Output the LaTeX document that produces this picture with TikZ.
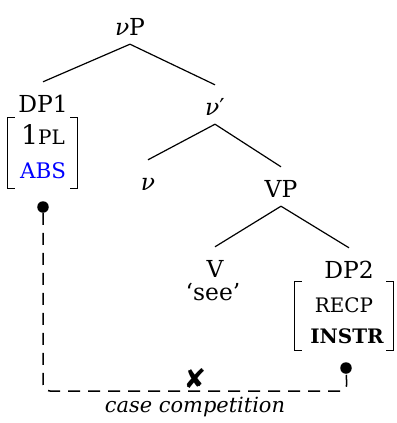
\documentclass[tikz,border=0pt]{standalone}
\usepackage{fontspec}
\usepackage{xcolor}
\usepackage{tikz}
\usetikzlibrary{positioning}
\setmainfont{DejaVu Serif}
\newfontfamily\symfont{DejaVu Sans}
\newcommand{\featsize}{\fontsize{20}{24}\selectfont}
\newcommand{\gr}{\textit{ν}}

\tikzset{
  cat/.style={anchor=base, inner sep=0pt, text height=30bp, text depth=9bp},
  leaf/.style={cat, text depth=3bp},
  featrow/.style={anchor=base, inner sep=0pt},
  featbox/.style={inner sep=0pt, minimum width=#1},
  dot/.style={circle, fill, inner sep=0pt, minimum size=11.5bp},
  branch/.style={line width=1.2bp}
}

\newcommand{\featbrackets}[1]{%
  \draw[line width=1.1bp] ([xshift=7bp]#1.north west) -- (#1.north west) -- (#1.south west) -- ([xshift=7bp]#1.south west);
  \draw[line width=1.1bp] ([xshift=-7bp]#1.north east) -- (#1.north east) -- (#1.south east) -- ([xshift=-7bp]#1.south east);}

\begin{document}
\begin{tikzpicture}[x=1bp, y=-1bp, font=\fontsize{23.5}{28}\selectfont]
            \useasboundingbox (0,0) rectangle (397,423);

            % tree
            \node[cat] (vP) at (130,35) {\gr P};
            \node[cat] (DP1) at (43,112) {DP1};
            \node[cat] (vbar) at (215,115) {\gr′};
            \node[cat] (v) at (148,190) {\gr};
            \node[cat] (VP) at (281,197) {VP};
            \node[leaf] (V) at (215,277) {V};
            \node[featrow] (gloss) at (213,300) {‘see’};
            \node[cat] (DP2) at (349,278) {DP2};

            \draw[branch] (vP.south) -- (DP1.north);
            \draw[branch] (vP.south) -- (vbar.north);
            \draw[branch] (vbar.south) -- (v.north);
            \draw[branch] (vbar.south) -- (VP.north);
            \draw[branch] (VP.south) -- (V.north);
            \draw[branch] (VP.south) -- (DP2.north);

            % feature bundles
            \node[featrow] (F1a) at (43,144) {{\fontsize{27}{30}\selectfont 1}{\fontsize{20}{24}\selectfont PL}};
            \node[featrow, text=blue] (F1b) at (43,178) {\fontsize{21.5}{25}\selectfont ABS};
            \node[featbox=69bp, minimum height=70bp] (F1) at (42.5,153) {};
            \featbrackets{F1}

            \node[featrow] (F2a) at (344,312) {\featsize RECP};
            \node[featrow] (F2b) at (347,343) {\featsize\bfseries INSTR};
            \node[featbox=98bp, minimum height=68bp] (F2) at (344,316) {};
            \featbrackets{F2}

            % case competition
            \node[dot] (d1) at (43,207) {};
            \node[dot] (d2) at (346,368) {};
            \coordinate (turn) at (347,391);

            \draw[line width=1.5bp, dash pattern=on 12bp off 8bp, rounded corners=7bp]
              (d1) |- node[pos=0.75, anchor=base, inner sep=0pt, yshift=3bp, font=\symfont\fontsize{27}{30}\selectfont] (cross) {✘} (turn) -- (d2);
            \node[below=8bp of cross, inner sep=0pt, font=\fontsize{21}{25}\selectfont\itshape] (cc) {case competition};
\end{tikzpicture}
\end{document}
